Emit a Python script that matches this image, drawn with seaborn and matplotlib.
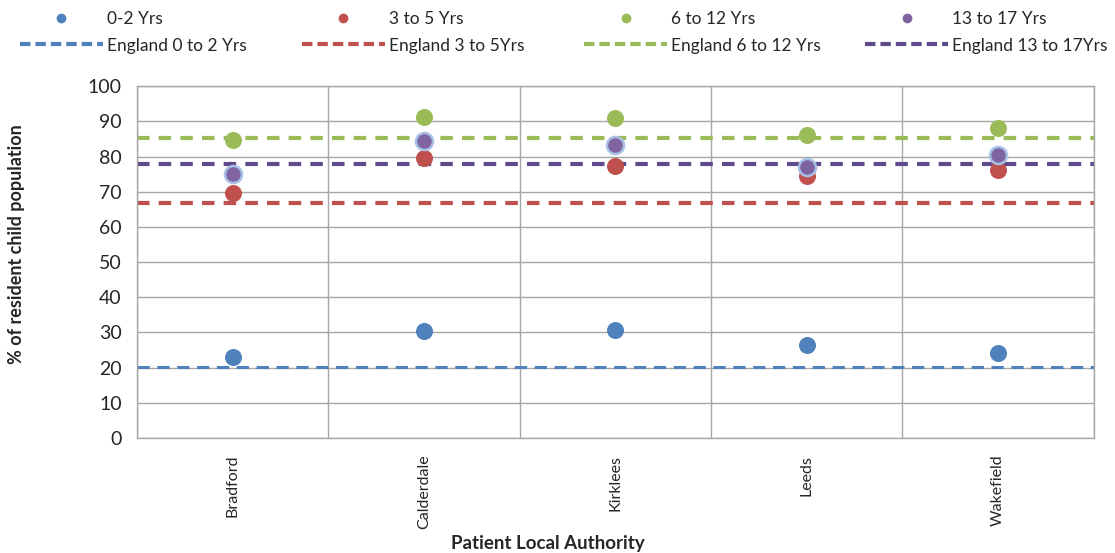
import numpy as np
import pandas as pd
import matplotlib
matplotlib.use("Agg")
from matplotlib import pyplot as plt
from matplotlib.lines import Line2D
import seaborn as sns

sns.set_style("white")
plt.rcParams['font.family'] = ['Lato', 'DejaVu Sans']

# data
authorities = ['Bradford', 'Calderdale', 'Kirklees', 'Leeds', 'Wakefield']
age_0_2 = [23.0, 30.4, 30.7, 26.4, 24.1]
age_3_5 = [69.6, 79.5, 77.3, 74.4, 76.1]
age_6_12 = [84.7, 91.2, 90.9, 86.1, 88.1]
age_13_17 = [75.0, 84.4, 83.2, 77.0, 80.4]
england = [20.2, 66.8, 85.2, 77.8]

groups = ['0-2 Yrs', '3 to 5 Yrs', '6 to 12 Yrs', '13 to 17 Yrs']
england_labels = ['England 0 to 2 Yrs', 'England 3 to 5Yrs', 'England 6 to 12 Yrs', 'England 13 to 17Yrs']
colours = ['#4F81BD', '#C0504D', '#9BBB59', '#8064A2']
line_colours = ['#4F81BD', '#C0504D', '#9BBB59', '#5F4B8B']

df = pd.DataFrame({
    'Authority': authorities * 4,
    'Group': np.repeat(groups, len(authorities)),
    'Value': age_0_2 + age_3_5 + age_6_12 + age_13_17,
})

fig = plt.figure(figsize=(11.15, 5.53), dpi=100)
ax = fig.add_axes([0.123, 0.208, 0.858, 0.636])

# england reference lines
for val, c, lw in zip(england, line_colours, [2.2, 3, 3, 3]):
    ax.axhline(val, color=c, lw=lw, ls=(0, (3, 2.2)) if lw > 2.5 else (0, (4, 2.5)), zorder=2)

for g, c in zip(groups, colours):
    sub = df[df['Group'] == g]
    edge = '#A7C0E6' if g == '13 to 17 Yrs' else c
    sns.scatterplot(data=sub, x='Authority', y='Value', color=c, s=150,
                    edgecolor=edge, linewidth=1.8 if g == '13 to 17 Yrs' else 0,
                    ax=ax, zorder=3, legend=False)

ax.set_xlim(-0.5, len(authorities) - 0.5)
ax.set_ylim(0, 100)
ax.set_yticks(range(0, 101, 10))
ax.set_xticks(range(len(authorities)))
ax.set_xticklabels(authorities, rotation=90, fontsize=11.5)
ax.set_xticks(np.arange(-0.5, len(authorities), 1), minor=True)
ax.tick_params(axis='x', which='major', length=0, pad=12)
ax.tick_params(axis='x', which='minor', length=5, color='#888888', direction='out')
ax.tick_params(axis='y', length=5, color='#888888', direction='out', labelsize=14, pad=6)
ax.grid(True, axis='y', color='#A6A6A6', lw=1)
ax.grid(True, axis='x', which='minor', color='#A6A6A6', lw=1)
ax.set_axisbelow(True)
for s in ax.spines.values():
    s.set_color('#A6A6A6')
    s.set_linewidth(1)

ax.set_ylabel('% of resident child population', fontsize=13, fontweight='bold')
ax.yaxis.set_label_coords(-0.117, 0.55)
ax.set_xlabel('')
fig.text(0.491, 0.018, 'Patient Local Authority', fontsize=13.5, fontweight='bold',
         ha='center', va='center')

# legend: one block per column, placed like the original
col_x = [0.013, 0.266, 0.519, 0.771]
for g, c, el, lc, x0 in zip(groups, colours, england_labels, line_colours, col_x):
    h = [Line2D([], [], ls='none', marker='o', markersize=6, color=c),
         Line2D([], [], color=lc, lw=3, ls=(0, (2.5, 1.2)))]
    fig.legend(h, [g, el], loc='upper left', bbox_to_anchor=(x0, 0.99),
               frameon=False, fontsize=12.5, handlelength=4.8, handletextpad=0.2,
               labelspacing=0.62, borderaxespad=0, borderpad=0.3)

fig.savefig('out.png', dpi=100)
